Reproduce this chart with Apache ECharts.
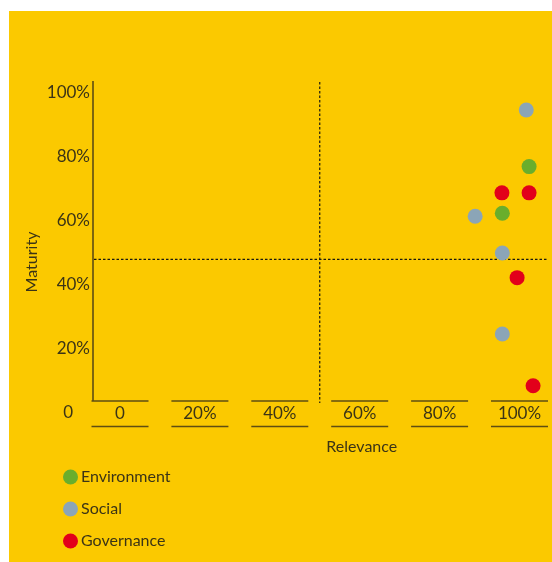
<!DOCTYPE html>
<html>
<head>
<meta charset="utf-8">
<script src="https://cdn.jsdelivr.net/npm/echarts@6/dist/echarts.min.js"></script>
<style>
    body { margin: 0; background: #fff; }
    #main { position: absolute; left: 9px; top: 11px; width: 543px; height: 551px; }
</style>
</head>
<body>
<div id="main"></div>
<script>
var xTicks = [0, 20, 40, 60, 80, 100];
var seriesNames = ['Environment', 'Social', 'Governance'];
var seriesColors = ['#69ae2c', '#8ba5b7', '#e2001a'];
// [relevance, maturity]
var envData = [[102.4, 77], [95.7, 62.4]];
var socialData = [[101.7, 94.7], [88.9, 61.5], [95.7, 50], [95.7, 24.7]];
var govData = [[95.6, 68.8], [102.4, 68.8], [99.4, 42.3], [103.4, 8.5]];
var thresholdX = 50;
var thresholdY = 48;

var textColor = '#3b3416';
var lineColor = '#5e4d12';
var font = 'Lato';
var fontSize = 17;

var myChart = echarts.init(document.getElementById('main'));

var pointSeries = function (name, data, color) {
    return {
        name: name,
        type: 'scatter',
        data: data,
        symbolSize: 15,
        clip: false,
        z: 3,
        itemStyle: {color: color, opacity: 1}
    };
};

var option = {
    backgroundColor: '#fbc900',
    animation: false,
    textStyle: {fontFamily: font},
    grid: {left: 111, top: 82, width: 399.5, height: 320},
    legend: {
        data: seriesNames,
        orient: 'vertical',
        left: 54,
        top: 458,
        padding: 0,
        icon: 'circle',
        itemWidth: 15,
        itemHeight: 15,
        itemGap: 16,
        textStyle: {color: textColor, fontSize: 16, lineHeight: 16, fontFamily: font, padding: [0, 0, 0, -2]}
    },
    xAxis: {
        type: 'value',
        min: 0,
        max: 100,
        interval: 20,
        name: 'Relevance',
        nameLocation: 'middle',
        nameGap: 26,
        nameMoveOverlap: false,
        nameTextStyle: {color: textColor, fontSize: 16, fontFamily: font, padding: [0, 0, 0, 84]},
        axisLine: {show: false},
        axisTick: {show: false},
        splitLine: {show: false},
        axisLabel: {
            color: textColor,
            fontSize: fontSize,
            fontFamily: font,
            margin: 1,
            verticalAlign: 'middle',
            formatter: function (v) { return v === 0 ? '0' : v + '%'; }
        }
    },
    yAxis: {
        type: 'value',
        min: 0,
        max: 100,
        interval: 20,
        name: 'Maturity',
        nameLocation: 'middle',
        nameGap: 80,
        nameMoveOverlap: false,
        nameTextStyle: {color: textColor, fontSize: 16, fontFamily: font, padding: [0, 18, 0, 0]},
        axisLine: {show: false},
        axisTick: {show: false},
        splitLine: {show: false},
        axisLabel: {
            color: textColor,
            fontSize: fontSize,
            fontFamily: font,
            margin: 30,
            formatter: function (v) { return v === 0 ? '{z|0}' : v + '%'; },
            rich: {z: {color: textColor, fontSize: fontSize, fontFamily: font, padding: [0, 17, 0, 0]}}
        }
    },
    series: [
        {
            // tick label rules and the y axis line
            type: 'custom',
            silent: true,
            clip: false,
            z: 1,
            data: xTicks.map(function (v) { return [v, 0]; }),
            renderItem: function (params, api) {
                var c = api.coord([api.value(0), 0]);
                var st = {stroke: lineColor, lineWidth: 1.6};
                var children = [
                    {type: 'line', shape: {x1: c[0] - 28.5, y1: c[1] - 12, x2: c[0] + 28.5, y2: c[1] - 12}, style: st},
                    {type: 'line', shape: {x1: c[0] - 28.5, y1: c[1] + 13.5, x2: c[0] + 28.5, y2: c[1] + 13.5}, style: st}
                ];
                if (api.value(0) === 0) {
                    var top = api.coord([0, 100]);
                    children.push({type: 'line', shape: {x1: c[0] - 27, y1: top[1] - 12, x2: c[0] - 27, y2: c[1] - 12}, style: st});
                }
                return {type: 'group', children: children};
            }
        },
        {
            // dashed quadrant lines
            type: 'custom',
            silent: true,
            clip: false,
            z: 1,
            data: [[thresholdX, thresholdY]],
            renderItem: function (params, api) {
                var c = api.coord([api.value(0), api.value(1)]);
                var lo = api.coord([0, 0]);
                var hi = api.coord([100, 100]);
                var st = {stroke: '#1a1a10', lineWidth: 1.2, lineDash: [2.5, 2]};
                return {
                    type: 'group',
                    children: [
                        {type: 'line', shape: {x1: c[0], y1: hi[1] - 11, x2: c[0], y2: lo[1] - 10}, style: st},
                        {type: 'line', shape: {x1: lo[0] - 26, y1: c[1], x2: hi[0] + 27, y2: c[1]}, style: st}
                    ]
                };
            }
        },
        pointSeries(seriesNames[0], envData, seriesColors[0]),
        pointSeries(seriesNames[1], socialData, seriesColors[1]),
        pointSeries(seriesNames[2], govData, seriesColors[2])
    ]
};

myChart.setOption(option);
</script>
</body>
</html>
